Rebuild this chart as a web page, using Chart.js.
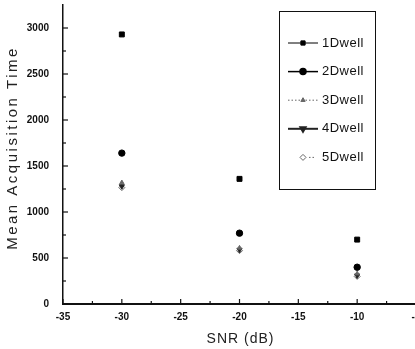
<!DOCTYPE html>
<html>
<head>
<meta charset="utf-8">
<script src="https://cdn.jsdelivr.net/npm/chart.js@4/dist/chart.umd.min.js"></script>
<style>
  html, body { margin: 0; padding: 0; background: #fff; overflow: hidden; }
  #wrap { position: absolute; left: 0; top: 0; width: 421px; height: 349px; }
</style>
</head>
<body>
<div id="wrap"><canvas id="chart"></canvas></div>
<script>
// SNR values (dB) and mean acquisition times per dwell setting
const snr = [-30, -20, -10];
const dwell1 = [2930, 1360, 700];
const dwell2 = [1640, 770, 400];
const dwell3 = [1320, 610, 330];
const dwell4 = [1280, 590, 310];
const dwell5 = [1265, 580, 300];
const seriesNames = ['1Dwell', '2Dwell', '3Dwell', '4Dwell', '5Dwell'];
const xTicks = [-35, -30, -25, -20, -15, -10, -5];
const yTicks = [0, 500, 1000, 1500, 2000, 2500, 3000];
const xTitle = 'SNR (dB)';
const yTitle = 'Mean Acquisition Time';

const tickFont = { family: "'Liberation Sans Narrow', 'Liberation Sans', Arial", size: 10, weight: 'bold' };

function pts(vals) {
  return vals.map((v, i) => ({ x: snr[i], y: v }));
}

// legend styles: line dash, line width, marker
const legendStyle = [
  { dash: [], lw: 1, style: 'rect', r: 3.5, rot: 0, fill: '#000', stroke: '#000' },
  { dash: [], lw: 1.5, style: 'circle', r: 3.2, rot: 0, fill: '#000', stroke: '#000' },
  { dash: [1.5, 2], lw: 1, style: 'triangle', r: 2.5, rot: 0, fill: '#666', stroke: '#666' },
  { dash: [], lw: 2, style: 'triangle', r: 3, rot: 180, fill: '#222', stroke: '#222' },
  { dash: [1.5, 2], lw: 1, style: 'rectRot', r: 3, rot: 0, fill: '#fff', stroke: '#666' }
];

const innerTicks = {
  id: 'innerTicks',
  afterDraw(chart) {
    const ctx = chart.ctx;
    const xs = chart.scales.x, ys = chart.scales.y;
    const area = chart.chartArea;
    ctx.save();
    ctx.strokeStyle = '#111';
    ctx.lineWidth = 1.2;
    for (let v = -35; v <= -5; v += 2.5) {
      const px = xs.getPixelForValue(v);
      const len = (v % 5 === 0) ? 5 : 3;
      ctx.beginPath();
      ctx.moveTo(px, area.bottom);
      ctx.lineTo(px, area.bottom - len);
      ctx.stroke();
    }
    for (let v = 0; v <= 3000; v += 250) {
      const py = ys.getPixelForValue(v);
      const len = (v % 500 === 0) ? 5 : 3;
      ctx.beginPath();
      ctx.moveTo(area.left, py);
      ctx.lineTo(area.left + len, py);
      ctx.stroke();
    }
    ctx.restore();
  }
};

// axis titles drawn by hand so they can get the wide letter spacing of the original
const axisTitles = {
  id: 'axisTitles',
  afterDraw(chart) {
    const ctx = chart.ctx;
    const xs = chart.scales.x;
    ctx.save();
    ctx.fillStyle = '#222';
    ctx.textAlign = 'center';
    ctx.textBaseline = 'middle';
    ctx.font = "14px 'Liberation Sans', Arial";
    ctx.letterSpacing = '1px';
    ctx.fillText(xTitle, (xs.left + xs.right) / 2 + 1, 339);
    ctx.font = "15px 'Liberation Sans', Arial";
    ctx.letterSpacing = '2.5px';
    ctx.translate(13, 148);
    ctx.rotate(-Math.PI / 2);
    ctx.fillText(yTitle, 0, 0);
    ctx.restore();
  }
};

const boxLegend = {
  id: 'boxLegend',
  afterDraw(chart) {
    const ctx = chart.ctx;
    ctx.save();
    ctx.strokeStyle = '#111';
    ctx.lineWidth = 1;
    ctx.strokeRect(279.5, 11.5, 96, 178);
    seriesNames.forEach((name, i) => {
      const s = legendStyle[i];
      const y = 43 + i * 28.6;
      ctx.setLineDash(s.dash);
      ctx.lineWidth = s.lw;
      ctx.strokeStyle = s.stroke;
      if (i < 4) {
        ctx.beginPath();
        ctx.moveTo(288, y);
        ctx.lineTo(318, y);
        ctx.stroke();
      } else {
        ctx.beginPath();
        ctx.moveTo(309, y);
        ctx.lineTo(314, y);
        ctx.stroke();
      }
      ctx.setLineDash([]);
      ctx.fillStyle = s.fill;
      ctx.strokeStyle = s.stroke;
      Chart.helpers.drawPoint(ctx, { pointStyle: s.style, radius: Math.min(s.r, 3), rotation: s.rot, borderWidth: 1 }, 303, y);
      ctx.fillStyle = '#111';
      ctx.font = "13px 'Liberation Sans Narrow', 'Liberation Sans', Arial";
      ctx.letterSpacing = '0.5px';
      ctx.textBaseline = 'middle';
      ctx.textAlign = 'left';
      ctx.fillText(name, 322, y);
    });
    ctx.restore();
  }
};

const datasets = [dwell1, dwell2, dwell3, dwell4, dwell5].map((vals, i) => {
  const s = legendStyle[i];
  return {
    label: seriesNames[i],
    data: pts(vals),
    showLine: false,
    pointStyle: s.style,
    pointRadius: s.r,
    pointRotation: s.rot,
    pointBackgroundColor: s.fill,
    pointBorderColor: s.stroke,
    pointBorderWidth: 1
  };
});

new Chart(document.getElementById('chart'), {
  type: 'scatter',
  data: { datasets: datasets },
  options: {
    responsive: true,
    maintainAspectRatio: false,
    animation: false,
    layout: { padding: { top: 5, right: 0, left: 0, bottom: 0 } },
    plugins: {
      legend: { display: false },
      tooltip: { enabled: false }
    },
    scales: {
      x: {
        type: 'linear',
        min: -35,
        max: -5,
        afterBuildTicks(scale) { scale.ticks = xTicks.map(v => ({ value: v })); },
        afterFit(scale) { scale.height = 45; scale.paddingLeft = 0; scale.paddingRight = 0; },
        grid: { display: false, drawTicks: false },
        border: { color: '#111', width: 2 },
        ticks: { color: '#111', font: tickFont, padding: 7, maxRotation: 0, callback: v => String(v) },
        title: { display: false }
      },
      y: {
        min: 0,
        max: 3250,
        afterBuildTicks(scale) { scale.ticks = yTicks.map(v => ({ value: v })); },
        afterFit(scale) { scale.width = 63; scale.paddingTop = 0; scale.paddingBottom = 0; },
        grid: { display: false, drawTicks: false },
        border: { color: '#111', width: 1.5 },
        ticks: { color: '#111', font: tickFont, padding: 14, callback: v => String(v) },
        title: { display: false }
      }
    }
  },
  plugins: [innerTicks, axisTitles, boxLegend]
});
</script>
</body>
</html>
